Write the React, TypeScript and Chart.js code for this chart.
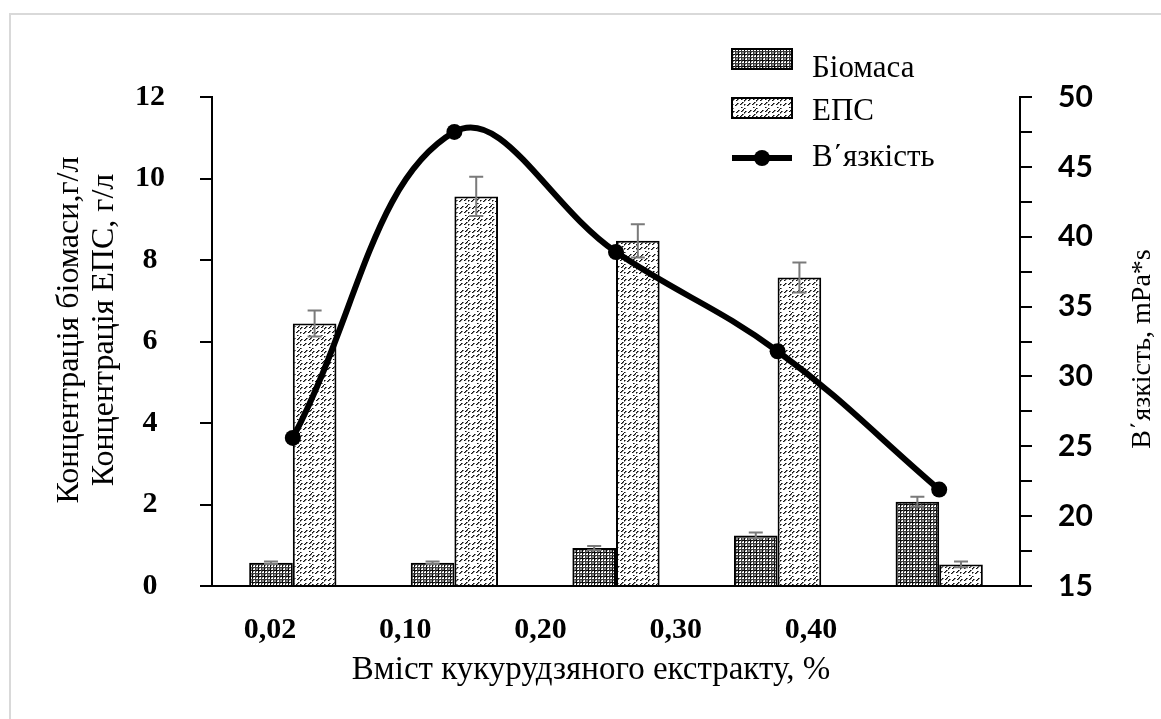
import { useEffect, useRef } from 'react';
import { Chart, registerables } from 'chart.js';

Chart.register(...registerables);

// Concentration of corn extract, %
const CATEGORIES = ['0,02', '0,10', '0,20', '0,30', '0,40'];
// Biomass concentration, g/l
const BIOMASS = [0.57, 0.57, 0.93, 1.24, 2.07];
const BIOMASS_ERR = [0.03, 0.03, 0.05, 0.07, 0.12];
// Exopolysaccharide concentration, g/l
const EPS = [6.44, 9.56, 8.47, 7.57, 0.53];
const EPS_ERR = [0.32, 0.48, 0.41, 0.37, 0.07];
// Viscosity, mPa*s
const VISCOSITY = [25.6, 47.5, 38.9, 31.8, 21.9];

const LEFT_MIN = 0;
const LEFT_MAX = 12;
const LEFT_STEP = 2;
const RIGHT_MIN = 15;
const RIGHT_MAX = 50;
const RIGHT_STEP = 2.5;
const RIGHT_LABEL_STEP = 5;

const SERIES_NAMES = ['Біомаса', 'ЕПС', 'В΄язкість'];
const X_TITLE = 'Вміст кукурудзяного екстракту, %';
const LEFT_TITLE = ['Концентрація біомаси,г/л', 'Концентрація ЕПС, г/л'];
const RIGHT_TITLE = 'В΄язкість, mPa*s';

const SERIF = "'Liberation Serif', 'Times New Roman', serif";
const SANS = "Lato, 'Open Sans', sans-serif";

// Dark plaid fill for the biomass bars
function plaidPattern(): CanvasPattern | string {
  const c = document.createElement('canvas');
  c.width = 6;
  c.height = 6;
  const g = c.getContext('2d');
  if (!g) return '#555';
  g.fillStyle = '#ffffff';
  g.fillRect(0, 0, 6, 6);
  g.fillStyle = '#0a0a0a';
  g.fillRect(0, 0, 6, 1);
  g.fillRect(0, 0, 1, 6);
  g.fillStyle = '#3c3c3c';
  g.fillRect(0, 3, 6, 1);
  g.fillRect(3, 0, 1, 6);
  g.fillStyle = '#8a8a8a';
  g.fillRect(4, 4, 2, 2);
  g.fillRect(1, 1, 1, 1);
  g.fillRect(4, 1, 1, 1);
  g.fillRect(1, 4, 1, 1);
  const p = g.createPattern(c, 'repeat');
  return p || '#555';
}

// Staggered diagonal dashes for the EPS bars
function dashPattern(): CanvasPattern | string {
  const c = document.createElement('canvas');
  const n = 12;
  c.width = n;
  c.height = n;
  const g = c.getContext('2d');
  if (!g) return '#ccc';
  g.fillStyle = '#ffffff';
  g.fillRect(0, 0, n, n);
  for (let x = 0; x < n; x++) {
    for (let y = 0; y < n; y++) {
      const s = x + y;
      const d = s % 4;
      const line = Math.floor(s / 4);
      const along = ((((x - y) + line * 6) % 12) + 12) % 12;
      const keep = along < 6;
      if (!keep) continue;
      if (d === 0) {
        g.fillStyle = '#111111';
        g.fillRect(x, y, 1, 1);
      } else if (d === 1) {
        g.fillStyle = '#7a7a7a';
        g.fillRect(x, y, 1, 1);
      }
    }
  }
  const p = g.createPattern(c, 'repeat');
  return p || '#ccc';
}

export default function App() {
  const ref = useRef<HTMLCanvasElement>(null);

  useEffect(() => {
    const canvas = ref.current;
    if (!canvas) return;
    const biomassFill = plaidPattern();
    const epsFill = dashPattern();
    const errors = [BIOMASS_ERR, EPS_ERR];

    const errorBars = {
      id: 'errorBars',
      afterDatasetDraw(chart: any, args: any) {
        const i = args.index;
        if (i > 1) return;
        const meta = chart.getDatasetMeta(i);
        const ys = chart.scales.y;
        const values = chart.data.datasets[i].data as number[];
        const ctx = chart.ctx;
        ctx.save();
        ctx.strokeStyle = '#7a7a7a';
        ctx.lineWidth = 2;
        meta.data.forEach((el: any, k: number) => {
          const v = values[k];
          const e = errors[i][k];
          const top = ys.getPixelForValue(v + e);
          const bot = ys.getPixelForValue(v - e);
          ctx.beginPath();
          ctx.moveTo(el.x, top);
          ctx.lineTo(el.x, bot);
          ctx.moveTo(el.x - 7, top);
          ctx.lineTo(el.x + 7, top);
          ctx.moveTo(el.x - 7, bot);
          ctx.lineTo(el.x + 7, bot);
          ctx.stroke();
        });
        ctx.restore();
      },
    };

    const decorations = {
      id: 'decorations',
      beforeDraw(chart: any) {
        const ctx = chart.ctx;
        ctx.save();
        ctx.fillStyle = '#ffffff';
        ctx.fillRect(0, 0, chart.width, chart.height);
        ctx.strokeStyle = '#d9d9d9';
        ctx.lineWidth = 2;
        ctx.beginPath();
        ctx.moveTo(10, chart.height);
        ctx.lineTo(10, 14);
        ctx.lineTo(chart.width, 14);
        ctx.stroke();
        ctx.restore();
      },
      afterDraw(chart: any) {
        const ctx = chart.ctx;
        ctx.save();
        ctx.fillStyle = '#000';
        // axis titles
        ctx.font = `33px ${SERIF}`;
        ctx.textAlign = 'center';
        ctx.textBaseline = 'middle';
        ctx.fillText(X_TITLE, 591, 670);
        ctx.font = `32px ${SERIF}`;
        ctx.save();
        ctx.translate(70, 330);
        ctx.rotate(-Math.PI / 2);
        ctx.fillText(LEFT_TITLE[0], 0, 0);
        ctx.restore();
        ctx.save();
        ctx.translate(105, 330);
        ctx.rotate(-Math.PI / 2);
        ctx.fillText(LEFT_TITLE[1], 0, 0);
        ctx.restore();
        ctx.save();
        ctx.font = `28px ${SERIF}`;
        ctx.translate(1143, 349);
        ctx.rotate(-Math.PI / 2);
        ctx.fillText(RIGHT_TITLE, 0, 0);
        ctx.restore();

        // legend
        const bx = 732;
        const bw = 60;
        const bh = 20;
        ctx.lineWidth = 2;
        ctx.strokeStyle = '#000';
        ctx.fillStyle = biomassFill;
        ctx.fillRect(bx, 49, bw, bh);
        ctx.strokeRect(bx, 49, bw, bh);
        ctx.fillStyle = epsFill;
        ctx.fillRect(bx, 98, bw, bh);
        ctx.strokeRect(bx, 98, bw, bh);
        ctx.lineWidth = 6;
        ctx.beginPath();
        ctx.moveTo(bx, 158);
        ctx.lineTo(bx + bw, 158);
        ctx.stroke();
        ctx.fillStyle = '#000';
        ctx.beginPath();
        ctx.arc(bx + bw / 2, 158, 8, 0, Math.PI * 2);
        ctx.fill();
        ctx.font = `31px ${SERIF}`;
        ctx.textAlign = 'left';
        ctx.textBaseline = 'alphabetic';
        ctx.fillText(SERIES_NAMES[0], 812, 77);
        ctx.fillText(SERIES_NAMES[1], 812, 120);
        ctx.fillText(SERIES_NAMES[2], 812, 166);
        ctx.restore();
      },
    };

    const chart = new Chart(canvas, {
      type: 'bar',
      data: {
        labels: CATEGORIES,
        datasets: [
          {
            type: 'bar',
            label: SERIES_NAMES[0],
            data: BIOMASS,
            backgroundColor: biomassFill as any,
            borderColor: '#000',
            borderWidth: 2,
            xAxisID: 'x',
            yAxisID: 'y',
            order: 1,
            categoryPercentage: 0.54,
            barPercentage: 1,
          },
          {
            type: 'bar',
            label: SERIES_NAMES[1],
            data: EPS,
            backgroundColor: epsFill as any,
            borderColor: '#000',
            borderWidth: 2,
            xAxisID: 'x',
            yAxisID: 'y',
            order: 1,
            categoryPercentage: 0.54,
            barPercentage: 1,
          },
          {
            type: 'line',
            label: SERIES_NAMES[2],
            data: VISCOSITY,
            borderColor: '#000',
            backgroundColor: '#000',
            borderWidth: 6,
            pointRadius: 8,
            pointBackgroundColor: '#000',
            pointBorderWidth: 0,
            tension: 0.4,
            fill: false,
            xAxisID: 'x',
            yAxisID: 'y1',
            order: 0,
          } as any,
        ],
      },
      options: {
        responsive: false,
        animation: false,
        events: [],
        layout: { padding: { top: 97, left: 0, right: 0, bottom: 0 } },
        plugins: {
          legend: { display: false },
          tooltip: { enabled: false },
        },
        scales: {
          x: {
            type: 'category',
            display: false,
            offset: true,
          },
          xLab: {
            type: 'linear',
            position: 'bottom',
            bounds: 'data',
            offset: false,
            min: -0.429,
            max: 5.545,
            afterBuildTicks: (s: any) => {
              s.ticks = CATEGORIES.map((_, i) => ({ value: i }));
            },
            afterFit: (s: any) => {
              s.height = 133;
            },
            ticks: {
              autoSkip: false,
              maxRotation: 0,
              padding: 26,
              color: '#000',
              font: { family: SERIF, size: 30, weight: 'bold' },
              callback: (v: any) => CATEGORIES[v] ?? '',
            },
            grid: { display: true, offset: false, drawOnChartArea: false, drawTicks: false },
            border: { display: true, color: '#000', width: 2 },
          },
          y: {
            type: 'linear',
            position: 'left',
            min: LEFT_MIN,
            max: LEFT_MAX,
            afterFit: (s: any) => {
              s.width = 212;
            },
            ticks: {
              stepSize: LEFT_STEP,
              autoSkip: false,
              padding: 35,
              crossAlign: 'center',
              color: '#000',
              font: { family: SERIF, size: 30, weight: 'bold' },
            },
            grid: {
              drawOnChartArea: false,
              drawTicks: true,
              tickLength: 12,
              color: '#000',
              lineWidth: 2,
            },
            border: { display: true, color: '#000', width: 2 },
          },
          y1: {
            type: 'linear',
            position: 'right',
            min: RIGHT_MIN,
            max: RIGHT_MAX,
            afterFit: (s: any) => {
              s.width = 141;
            },
            ticks: {
              stepSize: RIGHT_STEP,
              autoSkip: false,
              padding: 26,
              color: '#000',
              font: { family: SANS, size: 30, weight: 'bold' },
              callback: (v: any) => (Number(v) % RIGHT_LABEL_STEP === 0 ? String(v) : ''),
            },
            grid: {
              drawOnChartArea: false,
              drawTicks: true,
              tickLength: 12,
              color: '#000',
              lineWidth: 2,
            },
            border: { display: true, color: '#000', width: 2 },
          },
        },
      } as any,
      plugins: [errorBars, decorations],
    });

    return () => chart.destroy();
  }, []);

  return (
    <div style={{ position: 'fixed', left: 0, top: 0, width: 1161, height: 719, background: '#fff' }}>
      <canvas ref={ref} width={1161} height={719} style={{ display: 'block' }} />
    </div>
  );
}
